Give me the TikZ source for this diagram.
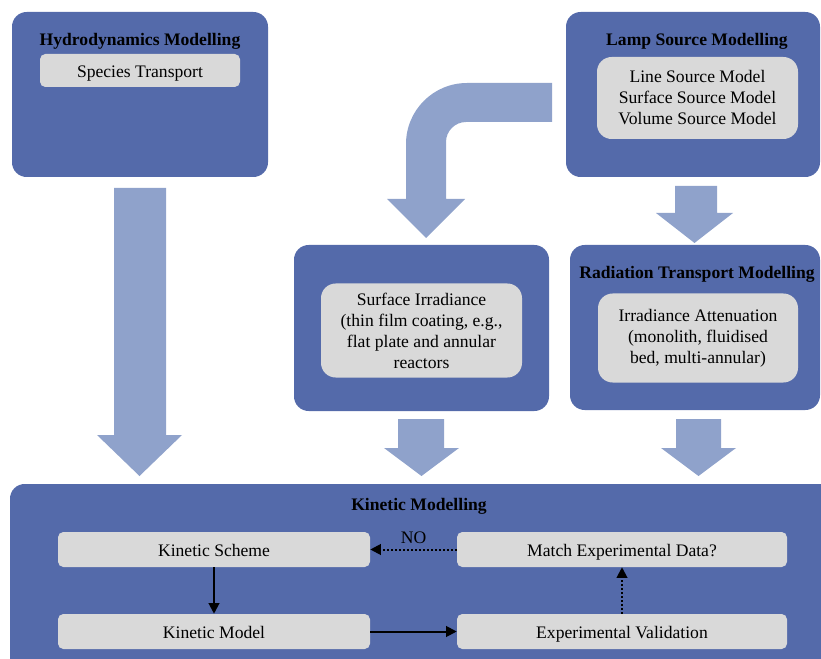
\documentclass[tikz,border=0pt]{standalone}
\usepackage{fontspec}
\setmainfont{Liberation Serif}
\usepackage{tikz}
\usetikzlibrary{arrows.meta, positioning}
\definecolor{panelblue}{RGB}{84,106,170}
\definecolor{arrowblue}{RGB}{143,162,203}
\definecolor{boxgray}{RGB}{217,217,217}

\begin{document}
\begin{tikzpicture}[x=0.75pt,y=-0.75pt,
    font=\fontsize{13.2}{15.75}\selectfont,
    panel/.style={fill=panelblue, rounded corners=11pt},
    title/.style={font=\fontsize{13.2}{15.75}\selectfont\bfseries, inner sep=0pt},
    inbox/.style={fill=boxgray, rounded corners=4pt, align=center, inner sep=0pt},
    onebox/.style={inbox, text height=10.5pt, text depth=0.5pt},
    kinbox/.style={onebox, minimum width=234pt, minimum height=26.25pt},
    flow/.style={line width=1.5pt, -{Triangle[length=8pt,width=8pt]}},
    back/.style={flow, dash pattern=on 1.6pt off 1.4pt}]
    \useasboundingbox (0,0) rectangle (821,659);
    \clip (0,0) rectangle (821,659);
    % panels
    \path[panel] (12,12) rectangle (268,177);
    \path[panel] (566,12) rectangle (820,177);
    \path[panel] (294,245) rectangle (549,411);
    \path[panel] (570,245) rectangle (820,410);
    \path[panel] (10,484) rectangle (840,690);
    % block arrows
    \fill[arrowblue] (114,188) -- (166,188) -- (166,435) -- (182,435) -- (139.5,476)
        -- (97,435) -- (114,435) -- cycle;
    \fill[arrowblue] (675,186) -- (717,186) -- (717,213) -- (733,213) -- (694.5,243)
        -- (656,213) -- (675,213) -- cycle;
    \fill[arrowblue] (398,419) -- (444,419) -- (444,448) -- (459,448) -- (421.5,476)
        -- (384,448) -- (398,448) -- cycle;
    \fill[arrowblue] (676,419) -- (721,419) -- (721,448) -- (736,448) -- (698.5,476)
        -- (661,448) -- (676,448) -- cycle;
    \fill[arrowblue] (552,83) -- (467,83) .. controls (433.3,83) and (406,110.3) .. (406,144)
        -- (406,199) -- (387,199) -- (426,238) -- (465,199) -- (446,199) -- (446,142)
        .. controls (446,131) and (455,122) .. (466,122) -- (552,122) -- cycle;
    % hydrodynamics
    \node[title] (hydrotitle) at (140,41.5) {Hydrodynamics Modelling};
    \node[onebox, minimum width=150pt, minimum height=24.75pt] (species) at (140,70.5)
        {Species Transport};
    % lamp source
    \node[title] (lamptitle) at (697,41.5) {Lamp Source Modelling};
    \node[inbox, rounded corners=11pt, minimum width=150.75pt, minimum height=61.5pt,
        yshift=-1.5pt] (lamp) at (697.5,96)
        {Line Source Model\\Surface Source Model\\Volume Source Model};
    % surface irradiance
    \node[inbox, rounded corners=11pt, minimum width=150.75pt, minimum height=70.5pt] (surface)
        at (421.5,330.5) {Surface Irradiance\\(thin film coating, e.g.,\\flat plate and annular\\reactors};
    % radiation transport
    \node[title] (radtitle) at (697,274.5) {Radiation Transport Modelling};
    \node[inbox, rounded corners=11pt, minimum width=150pt, minimum height=66.75pt] (radiation)
        at (698,338) {Irradiance Attenuation\\(monolith, fluidised\\bed, multi-annular)};
    % kinetic modelling
    \node[title] (kintitle) at (419,506) {Kinetic Modelling};
    \node[kinbox] (scheme) at (214,549.5) {Kinetic Scheme};
    \node[kinbox] (model) at (214,631.5) {Kinetic Model};
    \node[kinbox, minimum width=247.5pt] (match) at (622,549.5) {Match Experimental Data?};
    \node[kinbox, minimum width=247.5pt] (valid) at (622,631.5) {Experimental Validation};
    \draw[flow] (scheme) -- (model);
    \draw[flow] (model) -- (valid);
    \draw[back] (valid) -- (match);
    \draw[back] (match) -- node[above=0.5pt] {NO} (scheme);
\end{tikzpicture}
\end{document}
